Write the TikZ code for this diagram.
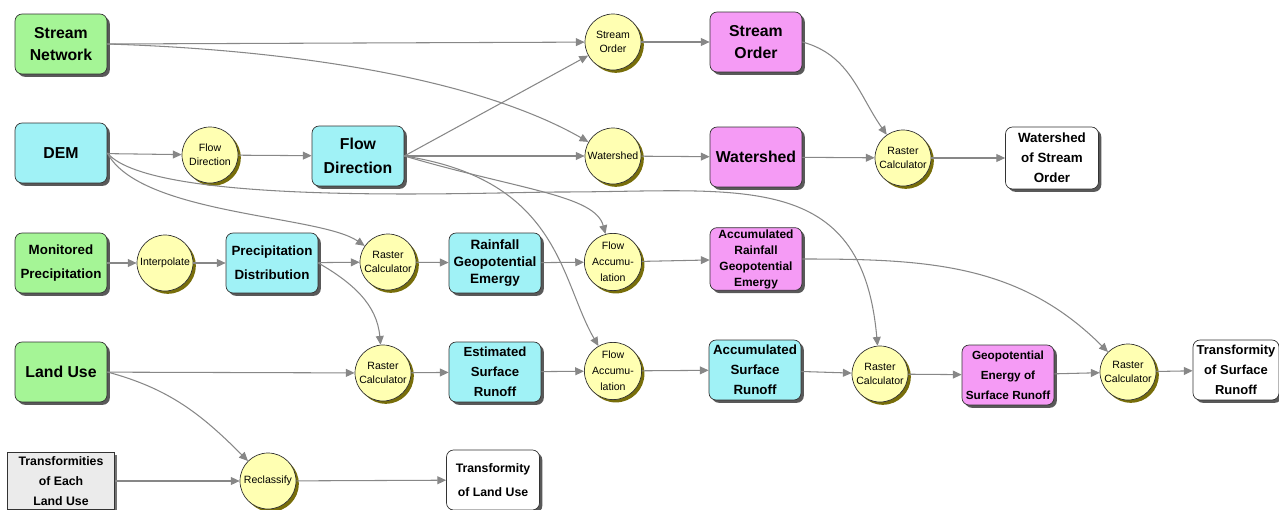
\documentclass[tikz,border=0pt]{standalone}
\usepackage{fontspec}
\setmainfont{Liberation Sans}
\usepackage{xcolor}
\definecolor{lgreen}{RGB}{165,245,150}
\definecolor{lcyan}{RGB}{160,242,246}
\definecolor{lmag}{RGB}{245,155,245}
\definecolor{lyel}{RGB}{255,255,178}
\definecolor{olivesh}{RGB}{120,110,10}
\definecolor{fgray}{RGB}{135,135,135}
\usepackage{tikz}
\usetikzlibrary{arrows.meta,shapes,positioning,shadows}
\newcommand{\bfs}[2]{\fontsize{#1}{#2}\selectfont\bfseries}

\begin{document}
\begin{tikzpicture}[x=0.02cm,y=0.02cm,
  dbox/.style={rectangle,draw=black!80,rounded corners=4pt,minimum width=1.84cm,minimum height=1.2cm,align=center,inner sep=1pt,drop shadow={shadow xshift=1.6pt,shadow yshift=-1.6pt,fill=black!65,opacity=1}},
  tool/.style={circle,draw=black!80,fill=lyel,minimum size=1.12cm,inner sep=0pt,align=center,font=\fontsize{6}{7.8}\selectfont,drop shadow={shadow xshift=1.6pt,shadow yshift=-1.6pt,fill=olivesh,opacity=1}},
  flow/.style={-{Triangle[length=5pt,width=4.5pt]},draw=fgray,line width=0.6pt}
]
  \useasboundingbox (0,0) rectangle (1279,-510);

  % Input layers
  \node[dbox,fill=lgreen,font=\bfs{9}{13}] (sn) at (61,-44) {Stream\\Network};
  \node[dbox,fill=lcyan,font=\bfs{9}{13}] (dem) at (61,-153) {DEM};
  \node[dbox,fill=lgreen,font=\bfs{7.6}{13.7}] (mp) at (61,-263) {Monitored\\Precipitation};
  \node[dbox,fill=lgreen,font=\bfs{9}{13}] (lu) at (61,-372) {Land Use};
  \node[rectangle,draw=black!80,fill=black!8,minimum width=2.14cm,minimum height=1.14cm,align=center,inner sep=1pt,font=\bfs{7}{11.4},drop shadow={shadow xshift=1.6pt,shadow yshift=-1.6pt,fill=black!55,opacity=1}] (telu) at (61,-481) {Transformities\\of Each\\Land Use};

  % Tools
  \node[tool] (fdc) at (210,-155) {Flow\\Direction};
  \node[tool] (soc) at (613,-42) {Stream\\Order};
  \node[tool] (wsc) at (613,-156) {Watershed};
  \node[tool] (rc1) at (903,-158) {Raster\\Calculator};
  \node[tool] (interp) at (165,-263) {Interpolate};
  \node[tool] (rc2) at (388,-262) {Raster\\Calculator};
  \node[tool,font=\fontsize{6}{9}\selectfont] (fa1) at (613,-262) {Flow\\Accumu-\\lation};
  \node[tool] (rc3) at (383,-373) {Raster\\Calculator};
  \node[tool,font=\fontsize{6}{9}\selectfont] (fa2) at (613,-371) {Flow\\Accumu-\\lation};
  \node[tool] (rc4) at (880,-374) {Raster\\Calculator};
  \node[tool] (rc5) at (1128,-372) {Raster\\Calculator};
  \node[tool] (recl) at (268,-481) {Reclassify};

  % Derived layers
  \node[dbox,fill=lcyan,font=\bfs{9}{13.7}] (fdb) at (358,-156) {Flow\\Direction};
  \node[dbox,fill=lmag,font=\bfs{9}{13}] (sob) at (756,-42) {Stream\\Order};
  \node[dbox,fill=lmag,font=\bfs{9}{13}] (wsb) at (756,-157) {Watershed};
  \node[dbox,fill=white,font=\bfs{7.6}{11.4},minimum width=1.86cm,minimum height=1.24cm] (wso) at (1052,-158) {Watershed\\of Stream\\Order};
  \node[dbox,fill=lcyan,font=\bfs{7.6}{13.7}] (pd) at (272,-263) {Precipitation\\Distribution};
  \node[dbox,fill=lcyan,font=\bfs{7.7}{9.5}] (rge) at (495,-263) {Rainfall\\Geopotential\\Emergy};
  \node[dbox,fill=lmag,font=\bfs{6.8}{9.1},minimum height=1.24cm] (arge) at (756,-259) {Accumulated\\Rainfall\\Geopotential\\Emergy};
  \node[dbox,fill=lcyan,font=\bfs{7.5}{11.4}] (esr) at (495,-372) {Estimated\\Surface\\Runoff};
  \node[dbox,fill=lcyan,font=\bfs{7.6}{11.4}] (asr) at (755,-370) {Accumulated\\Surface\\Runoff};
  \node[dbox,fill=lmag,font=\bfs{6.7}{11.4}] (gesr) at (1008,-375) {Geopotential\\Energy of\\Surface Runoff};
  \node[dbox,fill=white,font=\bfs{7.4}{11.4},minimum width=1.72cm] (tsr) at (1236,-370) {Transformity\\of Surface\\Runoff};
  \node[dbox,fill=white,font=\bfs{7}{13.8},minimum width=1.86cm] (tolu) at (493,-480) {Transformity\\of Land Use};

  % Straight connectors
  \draw[flow] (sn.east) -- (soc);
  \draw[flow] (dem) -- (fdc);
  \draw[flow] (fdc) -- (fdb);
  \draw[flow] (fdb.east) -- (soc);
  \draw[flow] (fdb) -- (wsc);
  \draw[flow] (soc) -- (sob);
  \draw[flow] (wsc) -- (wsb);
  \draw[flow] (wsb) -- (rc1);
  \draw[flow] (rc1) -- (wso);
  \draw[flow] (mp) -- (interp);
  \draw[flow] (interp) -- (pd);
  \draw[flow] (pd) -- (rc2);
  \draw[flow] (rc2) -- (rge);
  \draw[flow] (rge) -- (fa1);
  \draw[flow] (fa1) -- (arge);
  \draw[flow] (lu) -- (rc3);
  \draw[flow] (rc3) -- (esr);
  \draw[flow] (esr) -- (fa2);
  \draw[flow] (fa2) -- (asr);
  \draw[flow] (asr) -- (rc4);
  \draw[flow] (rc4) -- (gesr);
  \draw[flow] (gesr) -- (rc5);
  \draw[flow] (rc5) -- (tsr);
  \draw[flow] (telu) -- (recl);
  \draw[flow] (recl) -- (tolu);

  % Curved connectors
  \coordinate (demarc) at (560,-192);
  \draw[flow] (sn.east) .. controls (300,-50) and (480,-80) .. (wsc);
  \draw[flow] (fdb.east) .. controls (520,-190) and (595,-195) .. (fa1);
  \draw[flow] (fdb.east) .. controls (560,-180) and (560,-280) .. (fa2);
  \draw[flow] (sob.east) to[out=-15,in=125] (rc1);
  \draw[flow] (dem.east) .. controls (140,-215) and (320,-215) .. (rc2);
  \draw[flow] (dem.east) to[out=-50,in=180,looseness=0.4] (demarc) to[out=0,in=95,looseness=1.3] (rc4);
  \draw[flow] (pd.east) to[out=-30,in=95] (rc3);
  \draw[flow] (arge.east) to[out=0,in=135] (rc5);
  \draw[flow] (lu.east) to[out=-15,in=135] (recl);
\end{tikzpicture}
\end{document}
